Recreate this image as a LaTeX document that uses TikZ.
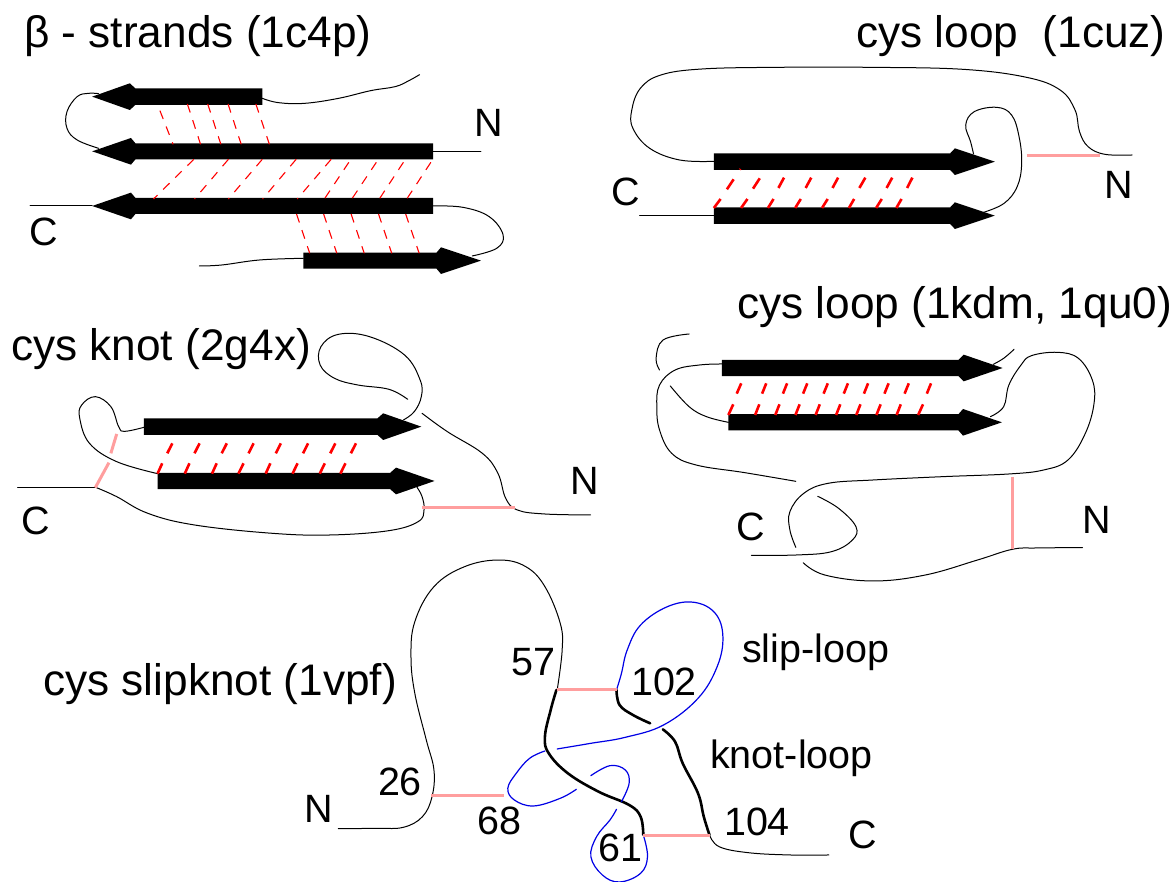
\documentclass[tikz,border=0pt]{standalone}
\usepackage{fontspec}
\setmainfont{Liberation Sans}
\newcommand{\betastrand}[7]{% tail, neck, base, tip, ymid, half body, half head
  \fill[black] ({#1},{#5-#6}) -- ({#2},{#5-#6}) -- ({#3},{#5-#7}) -- ({#4},{#5}) -- ({#3},{#5+#7}) -- ({#2},{#5+#6}) -- ({#1},{#5+#6}) -- cycle;}
\newcommand{\curve}[2]{\draw[#1] plot[smooth,tension=0.65] coordinates {#2};}
\tikzset{
  wire/.style={black,line width=1pt,line cap=round},
  thickwire/.style={black,line width=2.6pt,line cap=round},
  bluewire/.style={blue!90!black,line width=1.2pt,line cap=round},
  ssbond/.style={draw=red!38!white,line width=3pt},
  hbondthin/.style={red,line width=1.1pt,dash pattern=on 9pt off 8pt},
  hbondthick/.style={red,line width=2.6pt},
  title/.style={anchor=base west,inner sep=0pt,font=\fontsize{44.2}{46}\selectfont},
  lab/.style={anchor=base,inner sep=0pt,font=\fontsize{39.5}{42}\selectfont},
  labw/.style={anchor=base west,inner sep=0pt,font=\fontsize{39.5}{42}\selectfont}
}
\begin{document}
\begin{tikzpicture}[x=1pt,y=-1pt]
\path[use as bounding box] (0,0) rectangle (1175,882);
% Panel 1
\begin{scope}[x=0.3763pt,y=-0.3333pt]
\curve{wire}{(697,295)(740,308)(810,310)(900,295)(985,272)(1050,260)(1085,243)(1115,224)}
\curve{wire}{(262,281)(235,280)(205,290)(178,335)(178,385)(205,420)(262,445)}
\draw[wire] (1151,454) -- (1278,454);
\draw[wire] (80,618) -- (245,618);
\curve{wire}{(1151,618)(1230,622)(1300,650)(1337,705)(1320,745)(1255,768)}
\curve{wire}{(530,798)(590,795)(690,780)(806,775)}
\betastrand{697}{360}{345}{245}{290}{24.5}{40}
\betastrand{1151}{360}{348}{245}{454}{24}{40}
\betastrand{1151}{360}{348}{245}{618}{24}{40}
\betastrand{806}{1160}{1172}{1278}{782}{24}{40}
\foreach \a/\b/\c/\d in {425/332/460/433,498/312/533/433,552/312/587/433,606/312/641/433,680/312/716/433,
  515/478/408/597,607/478/517/597,697/478/607/597,787/478/698/597,880/478/790/597,
  927/487/862/597,1000/487/935/597,1072/487/1008/597,1145/487/1081/597,
  788/642/823/760,860/642/895/760,933/642/968/760,1006/642/1041/760,1078/642/1114/760}
  \draw[hbondthin] (\a,\b) -- (\c,\d);
\end{scope}
% Panel 2
\begin{scope}[shift={(590,0)},x=0.3731pt,y=-0.3333pt]
\curve{wire}{(332,484)(240,480)(160,445)(115,385)(112,330)(135,265)(190,225)(300,207)(500,202)(750,202)(1000,208)(1170,232)(1260,270)(1300,330)(1312,395)(1335,440)(1380,463)(1453,465)}
\curve{wire}{(1028,462)(1020,425)(1007,375)(1030,335)(1090,322)(1130,345)(1150,410)(1157,490)(1145,560)(1110,610)(1055,637)}
\draw[wire] (133,647) -- (332,647);
\betastrand{332}{965}{978}{1085}{485}{24.5}{40}
\betastrand{332}{965}{978}{1085}{647}{24.5}{40}
\draw[ssbond] (1170,466) -- (1367,466);
\foreach \a/\b/\c/\d in {385/538/367/568,455/535/437/566,520/533/505/564,593/533/578/564,665/533/650/564,738/533/722/564,810/533/795/564,864/533/850/564,
  350/597/332/624,422/597/405/624,492/597/477/624,565/597/550/624,637/597/622/624,708/597/694/624,782/597/767/624,835/597/821/624}
  \draw[hbondthick] (\a,\b) -- (\c,\d);
\draw[red,line width=0.9pt] (400,506) -- (405,510);
\end{scope}
% Panel 3
\begin{scope}[shift={(0,290)},x=0.389pt,y=-0.3333pt]
\curve{wire}{(370,412)(320,424)(305,410)(285,350)(245,320)(210,345)(205,385)(230,460)(300,515)(405,551)}
\draw[wire] (45,593) -- (245,593);
\curve{wire}{(248,593)(300,620)(380,670)(500,705)(700,730)(850,735)(1000,722)(1075,695)(1090,660)(1085,620)(1072,592)}
\curve{wire}{(1048,328)(1000,298)(920,285)(860,265)(823,225)(825,170)(870,133)(950,140)(1040,195)(1080,270)(1083,320)(1065,365)(1037,390)}
\curve{wire}{(1085,370)(1150,425)(1240,490)(1280,550)(1300,625)(1330,660)(1400,672)(1518,675)}
\betastrand{370}{970}{985}{1083}{410}{24.5}{40}
\betastrand{405}{1003}{1018}{1117}{573}{24.5}{40}
\draw[ssbond] (1085,654) -- (1325,654);
\draw[ssbond] (300,432) -- (285,490);
\draw[ssbond] (280,518) -- (245,593);
\foreach \a/\b/\c/\d in {443/460/430/490,513/460/500/490,583/460/570/490,652/460/639/490,722/460/709/490,792/460/779/490,862/460/849/490,915/460/902/490,
  417/520/405/551,487/520/475/551,557/520/545/551,626/520/613/551,695/520/683/551,765/520/752/551,835/520/822/551,888/520/875/551}
  \draw[hbondthick] (\a,\b) -- (\c,\d);
\end{scope}
% Panel 4
\begin{scope}[shift={(630,290)},x=0.3476pt,y=-0.3333pt]
\curve{wire}{(85,240)(75,205)(95,150)(170,132)}
\curve{wire}{(264,222)(200,225)(130,240)(85,285)(77,350)(85,420)(120,490)(190,525)(330,548)(477,574)}
\curve{wire}{(1105,178)(1075,205)(1045,223)}
\curve{wire}{(116,288)(170,350)(220,380)(283,397)}
\curve{wire}{(1037,380)(1075,350)(1090,285)(1125,225)(1155,197)(1230,187)(1290,205)(1330,270)(1335,340)(1310,430)(1260,510)(1190,540)(1090,552)(900,560)(700,570)(570,580)(500,610)(460,665)(460,720)(477,772)}
\curve{wire}{(540,619)(600,655)(650,710)(640,750)(580,785)(480,795)(349,796)}
\curve{wire}{(498,818)(560,855)(700,873)(850,855)(1000,810)(1100,778)(1170,774)(1302,773)}
\betastrand{264}{945}{960}{1072}{234}{24.5}{40}
\betastrand{283}{945}{958}{1070}{397}{24.5}{40}
\draw[ssbond] (1100,560) -- (1100,778);
\foreach \a/\b/\c/\d in {320/280/307/311,392/280/380/311,452/280/440/311,510/280/498/311,569/280/557/311,627/280/615/311,685/280/673/311,744/280/732/311,802/280/790/311,866/280/854/311,
  297/343/283/375,372/343/360/375,430/343/418/375,488/343/476/375,546/343/534/375,605/343/593/375,663/343/651/375,721/343/709/375,779/343/767/375,843/343/829/375}
  \draw[hbondthick] (\a,\b) -- (\c,\d);
\end{scope}
% Panel 5
\begin{scope}[shift={(300,550)},x=0.3827pt,y=-0.3333pt]
\curve{wire}{(100,836)(200,835)(270,832)(320,800)(345,740)(350,660)(330,570)(300,430)(290,320)(300,215)(350,110)(430,50)(520,30)(590,50)(640,110)(680,220)(685,300)(672,420)}
\curve{thickwire}{(670,420)(655,480)(640,560)(650,610)(700,670)(780,725)(860,765)(890,800)(897,855)}
\curve{bluewire}{(897,855)(908,920)(890,970)(835,996)(790,975)(760,920)(775,860)(810,810)(827,778)}
\curve{bluewire}{(840,755)(860,700)(850,660)(810,647)(760,677)}
\curve{bluewire}{(722,718)(680,745)(610,768)(560,750)(543,715)(565,670)(600,625)(640,603)}
\curve{bluewire}{(672,597)(760,580)(850,562)(950,525)(1040,445)(1090,350)(1105,260)(1085,190)(1030,157)(960,170)(890,225)(855,300)(840,370)(827,420)}
\curve{thickwire}{(827,420)(835,465)(870,495)(915,520)}
\curve{thickwire}{(948,538)(980,575)(1000,640)(1040,730)(1055,800)(1070,855)}
\curve{wire}{(1070,855)(1095,890)(1170,908)(1280,915)(1382,915)}
\draw[ssbond] (672,419) -- (827,419);
\draw[ssbond] (343,738) -- (532,738);
\draw[ssbond] (897,856) -- (1070,856);
\end{scope}
% Titles
\node[title] (t1) at (24,48) {β - strands (1c4p)};
\node[title] (t2) at (856,48) {cys loop\ \ (1cuz)};
\node[title] (t3) at (11,360) {cys knot (2g4x)};
\node[title] (t4) at (737,319) {cys loop (1kdm, 1qu0)};
\node[title] (t5) at (43,695) {cys slipknot (1vpf)};
% Terminus labels
\node[lab] (n1) at (489,137) {N};
\node[lab] (c1) at (44,246) {C};
\node[lab] (n2) at (1119,199) {N};
\node[lab] (c2) at (626,206) {C};
\node[lab] (n3) at (585,494) {N};
\node[lab] (c3) at (36,534) {C};
\node[lab] (n4) at (1097,533) {N};
\node[lab] (c4) at (751,540) {C};
\node[lab] (n5) at (319,822) {N};
\node[lab] (c5) at (863,848) {C};
% Residues
\node[lab] (r26) at (400,795) {26};
\node[lab] (r68) at (499,834) {68};
\node[lab] (r57) at (533,675) {57};
\node[lab] (r102) at (664,695) {102};
\node[lab] (r61) at (620,861) {61};
\node[lab] (r104) at (757,835) {104};
\node[labw] (sl) at (742,662) {slip-loop};
\node[labw] (kl) at (710,768) {knot-loop};
\end{tikzpicture}
\end{document}
